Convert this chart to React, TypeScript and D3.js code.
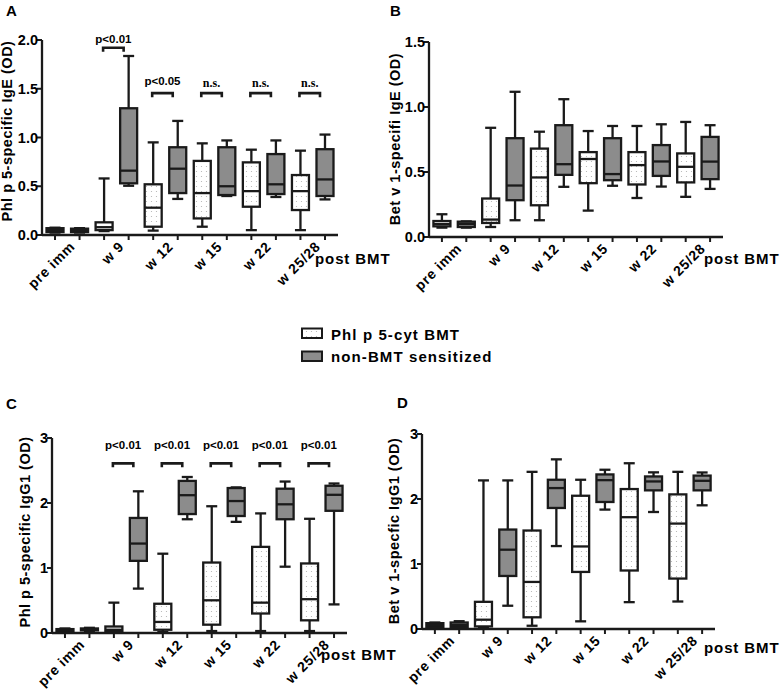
import React from "react";
import * as d3 from "d3";

// ---------- data ----------
const categories = ["pre imm", "w 9", "w 12", "w 15", "w 22", "w 25/28"];
const seriesNames = ["Phl p 5-cyt BMT", "non-BMT sensitized"];

// each entry: [min, q1, median, q3, max]
const A_cyt = [
  [0.025, 0.03, 0.05, 0.07, 0.075],
  [0.04, 0.05, 0.08, 0.13, 0.58],
  [0.045, 0.085, 0.28, 0.52, 0.95],
  [0.085, 0.17, 0.43, 0.76, 0.94],
  [0.05, 0.29, 0.45, 0.745, 0.875],
  [0.05, 0.256, 0.45, 0.615, 0.865],
];
const A_non = [
  [0.025, 0.03, 0.05, 0.065, 0.07],
  [0.505, 0.53, 0.66, 1.3, 1.836],
  [0.37, 0.43, 0.68, 0.9, 1.17],
  [0.4, 0.41, 0.5, 0.9, 0.97],
  [0.39, 0.42, 0.52, 0.83, 0.97],
  [0.365, 0.4, 0.57, 0.88, 1.03],
];
const B_cyt = [
  [0.072, 0.082, 0.1, 0.123, 0.175],
  [0.077, 0.108, 0.134, 0.296, 0.84],
  [0.129, 0.244, 0.458, 0.68, 0.81],
  [0.203, 0.414, 0.6, 0.653, 0.815],
  [0.3, 0.404, 0.553, 0.653, 0.854],
  [0.309, 0.42, 0.54, 0.643, 0.885],
];
const B_non = [
  [0.072, 0.077, 0.1, 0.118, 0.12],
  [0.129, 0.283, 0.396, 0.76, 1.117],
  [0.386, 0.478, 0.56, 0.86, 1.06],
  [0.394, 0.437, 0.484, 0.76, 0.854],
  [0.388, 0.47, 0.581, 0.707, 0.867],
  [0.37, 0.445, 0.58, 0.77, 0.86],
];
const C_cyt = [
  [0.02, 0.03, 0.04, 0.06, 0.07],
  [0.026, 0.03, 0.05, 0.1, 0.467],
  [0.015, 0.05, 0.17, 0.45, 1.22],
  [0.03, 0.128, 0.503, 1.084, 1.95],
  [0.03, 0.3, 0.467, 1.325, 1.84],
  [0.03, 0.195, 0.52, 1.07, 1.757],
];
const C_non = [
  [0.03, 0.04, 0.05, 0.07, 0.08],
  [0.683, 1.11, 1.376, 1.77, 2.18],
  [1.75, 1.83, 2.12, 2.34, 2.4],
  [1.71, 1.8, 2.03, 2.23, 2.24],
  [1.02, 1.75, 1.98, 2.22, 2.33],
  [0.44, 1.88, 2.126, 2.265, 2.3],
];
const D_cyt = [
  [0.02, 0.03, 0.06, 0.09, 0.1],
  [0.02, 0.04, 0.143, 0.418, 2.286],
  [0.05, 0.18, 0.724, 1.515, 2.418],
  [0.118, 0.878, 1.27, 2.05, 2.296],
  [0.413, 0.9, 1.72, 2.153, 2.55],
  [0.423, 0.776, 1.622, 2.071, 2.418],
];
const D_non = [
  [0.02, 0.03, 0.06, 0.1, 0.12],
  [0.358, 0.816, 1.22, 1.53, 2.286],
  [1.276, 1.862, 2.168, 2.296, 2.61],
  [1.837, 1.954, 2.29, 2.378, 2.45],
  [1.8, 2.133, 2.27, 2.347, 2.41],
  [1.903, 2.133, 2.28, 2.36, 2.408],
];

const A_ticks = [0, 0.5, 1.0, 1.5, 2.0];
const B_ticks = [0, 0.5, 1.0, 1.5];
const CD_ticks = [0, 1, 2, 3];

// significance: [category, label, bracket level (data units)]
const A_sig: [string, string, number][] = [
  ["w 9", "p<0.01", 1.92],
  ["w 12", "p<0.05", 1.455],
  ["w 15", "n.s.", 1.455],
  ["w 22", "n.s.", 1.455],
  ["w 25/28", "n.s.", 1.455],
];
const C_sig: [string, string, number][] = [
  ["w 9", "p<0.01", 2.61],
  ["w 12", "p<0.01", 2.61],
  ["w 15", "p<0.01", 2.61],
  ["w 22", "p<0.01", 2.61],
  ["w 25/28", "p<0.01", 2.61],
];

// ---------- layout ----------
const W = 781;
const H = 690;
const FONT = "Liberation Sans, Arial, Helvetica, sans-serif";
const STROKE = "#1a1a1a";
const GRAY = "#8c8c8c";

type Panel = {
  letter: string;
  lx: number;
  ly: number;
  left: number;
  right: number;
  top: number;
  bottom: number;
  max: number;
  ticks: number[];
  fmt: (v: number) => string;
  title: string;
  tx: number;
  ty: number;
  cyt: number[][];
  non: number[][];
  sig: [string, string, number][];
  postX: number;
  postDy: number;
};

const f1 = d3.format(".1f");
const f0 = d3.format("d");

const panels: Panel[] = [
  {
    letter: "A", lx: 6, ly: 16, left: 42, right: 338, top: 40, bottom: 235, max: 2,
    ticks: A_ticks, fmt: f1, title: "Phl p 5-specific IgE (OD)", tx: 12, ty: 131,
    cyt: A_cyt, non: A_non, sig: A_sig, postX: 315, postDy: 29,
  },
  {
    letter: "B", lx: 390, ly: 16, left: 429, right: 723, top: 42, bottom: 237, max: 1.5,
    ticks: B_ticks, fmt: f1, title: "Bet v 1-specifi IgE (OD)", tx: 400, ty: 139,
    cyt: B_cyt, non: B_non, sig: [], postX: 704, postDy: 27,
  },
  {
    letter: "C", lx: 6, ly: 409, left: 52, right: 347, top: 438, bottom: 633, max: 3,
    ticks: CD_ticks, fmt: f0, title: "Phl p 5-specific IgG1 (OD)", tx: 30, ty: 532,
    cyt: C_cyt, non: C_non, sig: C_sig, postX: 321, postDy: 27,
  },
  {
    letter: "D", lx: 397, ly: 408, left: 422, right: 715, top: 434, bottom: 629, max: 3,
    ticks: CD_ticks, fmt: f0, title: "Bet v 1-specfic IgG1 (OD)", tx: 399, ty: 531,
    cyt: D_cyt, non: D_non, sig: [], postX: 704, postDy: 24,
  },
];

const keys = categories.flatMap((c) => [c + "|cyt", c + "|non"]);

function BoxMark({ x, y, v, fill }: { x: number; y: d3.ScaleLinear<number, number>; v: number[]; fill: string }) {
  const bw = 17;
  const cw = 11;
  const [mn, q1, md, q3, mx] = v;
  return (
    <g stroke={STROKE} strokeWidth={2.3} fill="none">
      <line x1={x} x2={x} y1={y(q3)} y2={y(mx)} />
      <line x1={x} x2={x} y1={y(q1)} y2={y(mn)} />
      <line x1={x - cw / 2} x2={x + cw / 2} y1={y(mx)} y2={y(mx)} />
      <line x1={x - cw / 2} x2={x + cw / 2} y1={y(mn)} y2={y(mn)} />
      <rect x={x - bw / 2} y={y(q3)} width={bw} height={Math.max(0.5, y(q1) - y(q3))} fill={fill} />
      <line x1={x - bw / 2} x2={x + bw / 2} y1={y(md)} y2={y(md)} />
    </g>
  );
}

function PanelView({ p }: { p: Panel }) {
  const x = d3.scalePoint<string>().domain(keys).range([p.left, p.right]).padding(0.53);
  const y = d3.scaleLinear().domain([0, p.max]).range([p.bottom, p.top]);
  return (
    <g>
      <text x={p.lx} y={p.ly} fontFamily={FONT} fontWeight="bold" fontSize={15} letterSpacing={0.5}>
        {p.letter}
      </text>
      {/* y axis */}
      <line x1={p.left} x2={p.left} y1={y(0)} y2={y(p.max)} stroke={STROKE} strokeWidth={2.3} />
      {p.ticks.map((t) => (
        <g key={t}>
          <line x1={p.left - 5} x2={p.left} y1={y(t)} y2={y(t)} stroke={STROKE} strokeWidth={2} />
          <text
            x={p.left - 4}
            y={y(t)}
            dy="0.36em"
            textAnchor="end"
            fontFamily={FONT}
            fontWeight="bold"
            fontSize={14.5}
          >
            {p.fmt(t)}
          </text>
        </g>
      ))}
      <text
        transform={`translate(${p.tx},${p.ty}) rotate(-90)`}
        textAnchor="middle"
        fontFamily={FONT}
        fontWeight="bold"
        fontSize={14.5}
        letterSpacing={0.5}
      >
        {p.title}
      </text>
      {/* x axis */}
      <line x1={p.left} x2={p.right} y1={y(0)} y2={y(0)} stroke={STROKE} strokeWidth={2.3} />
      {keys.map((k) => (
        <line key={k} x1={x(k)} x2={x(k)} y1={y(0)} y2={y(0) + 5} stroke={STROKE} strokeWidth={2} />
      ))}
      {categories.map((c) => {
        const gc = ((x(c + "|cyt") as number) + (x(c + "|non") as number)) / 2;
        return (
          <text
            key={c}
            transform={`translate(${gc + 5},${y(0) + 9}) rotate(-45)`}
            textAnchor="end"
            dy="0.35em"
            fontFamily={FONT}
            fontWeight="bold"
            fontSize={14}
            letterSpacing={0.7}
          >
            {c}
          </text>
        );
      })}
      <text
        x={p.postX}
        y={y(0) + p.postDy}
        fontFamily={FONT}
        fontWeight="bold"
        fontSize={15}
        letterSpacing={0.9}
      >
        post BMT
      </text>
      {/* boxes */}
      {categories.map((c, i) => (
        <g key={c}>
          <BoxMark x={x(c + "|cyt") as number} y={y} v={p.cyt[i]} fill="url(#dots)" />
          <BoxMark x={x(c + "|non") as number} y={y} v={p.non[i]} fill={GRAY} />
        </g>
      ))}
      {/* significance */}
      {p.sig.map(([c, label, lvl]) => {
        const x1 = (x(c + "|cyt") as number) - 1;
        const x2 = (x(c + "|non") as number) - 5;
        const by = y(lvl);
        const isNs = label === "n.s.";
        const gap = p.letter === "C" ? 14 : c === "w 9" ? 5 : isNs ? 6 : 8;
        return (
          <g key={c}>
            <path
              d={`M${x1},${by + 4}V${by}H${x2}V${by + 4}`}
              fill="none"
              stroke={STROKE}
              strokeWidth={2.6}
            />
            <text
              x={(x1 + x2) / 2}
              y={by - gap}
              textAnchor="middle"
              fontFamily={isNs ? "Liberation Serif, Times New Roman, serif" : FONT}
              fontWeight="bold"
              fontSize={isNs ? 12 : 11.5}
            >
              {label}
            </text>
          </g>
        );
      })}
    </g>
  );
}

export default function App() {
  return (
    <svg
      width={W}
      height={H}
      viewBox={`0 0 ${W} ${H}`}
      style={{ position: "absolute", left: 0, top: 0, background: "#fff" }}
    >
      <defs>
        <pattern id="dots" width={5} height={5} patternUnits="userSpaceOnUse">
          <rect width={5} height={5} fill="#fff" />
          <circle cx={1.5} cy={1.5} r={0.6} fill="#b0b0b0" />
        </pattern>
      </defs>
      <rect width={W} height={H} fill="#fff" />
      {panels.map((p) => (
        <PanelView key={p.letter} p={p} />
      ))}
      {/* legend */}
      <g>
        <rect x={302} y={328.5} width={20} height={9.5} fill="url(#dots)" stroke={STROKE} strokeWidth={2} />
        <text x={331} y={339.5} fontFamily={FONT} fontWeight="bold" fontSize={15} letterSpacing={1.1}>
          {seriesNames[0]}
        </text>
        <rect x={302} y={351.5} width={20} height={9.5} fill={GRAY} stroke={STROKE} strokeWidth={2} />
        <text x={331} y={361.5} fontFamily={FONT} fontWeight="bold" fontSize={15} letterSpacing={1.1}>
          {seriesNames[1]}
        </text>
      </g>
    </svg>
  );
}
